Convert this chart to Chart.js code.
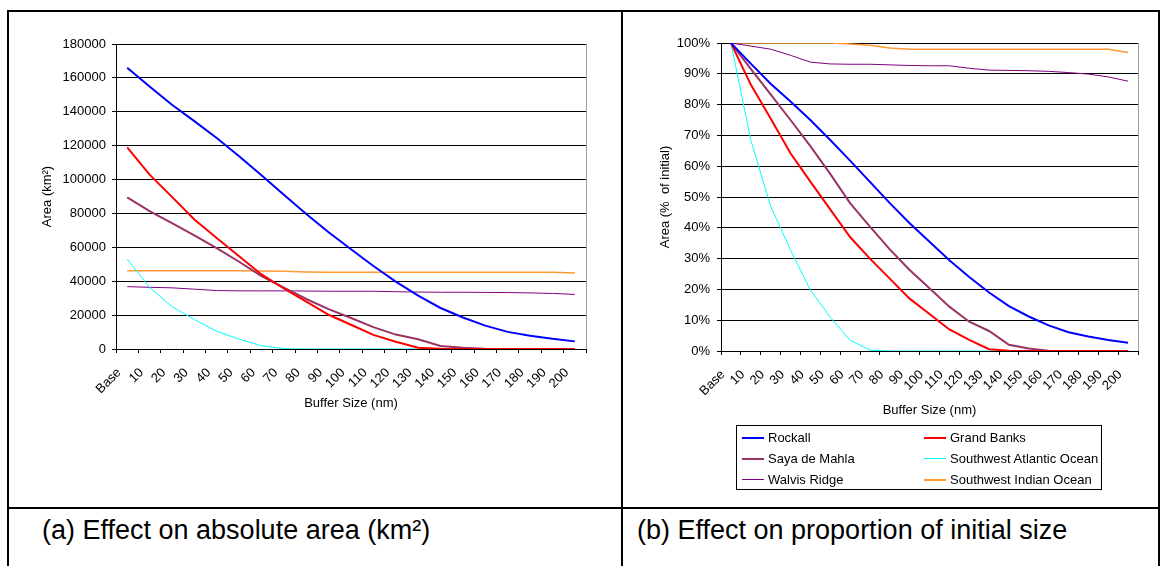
<!DOCTYPE html>
<html>
<head>
<meta charset="utf-8">
<title>Buffer size effect</title>
<script src="https://cdn.jsdelivr.net/npm/chart.js@4/dist/chart.umd.min.js"></script>
<style>
  html, body { margin: 0; padding: 0; background: #fff; overflow: hidden; }
  body { width: 1162px; height: 566px; position: relative; font-family: "Liberation Sans", Arial, sans-serif; }
  .rule { position: absolute; background: #000; }
  .frame { position: absolute; left: 7px; top: 10px; width: 1153px; height: 620px; box-sizing: border-box; border: 2px solid #000; }
  .cell { position: absolute; }
  .caption { position: absolute; font-size: 27px; line-height: 30px; color: #000; white-space: nowrap; }
  .legend { position: absolute; left: 736px; top: 425px; width: 366px; height: 65px; box-sizing: border-box; border: 1px solid #000;
            display: grid; grid-template-columns: 182px 182px; grid-auto-rows: 21px; padding-top: 1px; font-size: 13px; color: #000; }
  .legend .item { display: flex; align-items: center; white-space: nowrap; }
  .legend .swatch { display: inline-block; width: 22px; margin: 0 4px 0 5px; }
</style>
</head>
<body>
<div class="frame"></div>
<div class="rule" style="left:621px;top:10px;width:2px;height:620px"></div>
<div class="rule" style="left:7px;top:507px;width:1153px;height:2px"></div>

<div class="cell" style="left:10px;top:12px;width:610px;height:494px"><canvas id="chart-area"></canvas></div>
<div class="cell" style="left:624px;top:12px;width:534px;height:494px"><canvas id="chart-pct"></canvas></div>
<div class="legend" id="legend-pct"></div>

<div class="caption" style="left:42px;top:515px">(a) Effect on absolute area (km²)</div>
<div class="caption" style="left:637px;top:515px">(b) Effect on proportion of initial size</div>

<script>
(function () {
  'use strict';

  // ── Données ──
  var categories = ['Base', '10', '20', '30', '40', '50', '60', '70', '80', '90', '100',
                    '110', '120', '130', '140', '150', '160', '170', '180', '190', '200'];

  var seriesNames = ['Rockall', 'Grand Banks', 'Saya de Mahla', 'Southwest Atlantic Ocean', 'Walvis Ridge', 'Southwest Indian Ocean'];

  // (a) surface absolue, km²
  var areaRockall   = [166000, 154900, 144100, 134500, 124500, 113700, 102600, 91100, 79700, 68900, 58900, 49000, 39800, 31500, 24200, 18600, 13800, 10100, 7800, 6000, 4500];
  var areaGrandBks  = [119000, 102900, 89800, 76400, 65500, 54700, 44000, 35700, 28000, 20200, 14300, 8300, 4300, 700, 100, 0, 0, 0, 0, 0, 0];
  var areaSaya      = [89500, 81400, 74300, 67100, 59500, 51500, 43000, 36200, 29500, 23500, 18300, 12900, 8500, 5800, 1800, 700, 100, 0, 0, 0, 0];
  var areaSwAtl     = [53100, 36400, 25000, 17400, 10500, 5800, 1900, 200, 0, 0, 0, 0, 0, 0, 0, 0, 0, 0, 0, 0, 0];
  var areaWalvis    = [36800, 36400, 36100, 35300, 34500, 34300, 34300, 34300, 34200, 34100, 34100, 34100, 33800, 33600, 33500, 33500, 33400, 33300, 33100, 32800, 32200];
  var areaSwInd     = [46200, 46200, 46200, 46200, 46200, 46200, 46100, 45900, 45500, 45300, 45300, 45300, 45300, 45300, 45300, 45300, 45300, 45300, 45300, 45300, 44800];

  // (b) proportion de la surface initiale, %
  var pctRockall    = [100, 93.3, 86.8, 81, 75, 68.5, 61.8, 54.9, 48, 41.5, 35.5, 29.5, 24, 19, 14.6, 11.2, 8.3, 6.1, 4.7, 3.6, 2.7];
  var pctGrandBks   = [100, 86.5, 75.5, 64.2, 55, 46, 37, 30, 23.5, 17, 12, 7, 3.6, 0.6, 0.1, 0, 0, 0, 0, 0, 0];
  var pctSaya       = [100, 91.6, 83.3, 75, 66.5, 57.5, 48, 40.4, 33, 26.3, 20.4, 14.4, 9.5, 6.5, 2, 0.8, 0.1, 0, 0, 0, 0];
  var pctSwAtl      = [100, 68.5, 47, 32.8, 19.8, 11, 3.5, 0.3, 0, 0, 0, 0, 0, 0, 0, 0, 0, 0, 0, 0, 0];
  var pctWalvis     = [100, 99, 98, 96, 93.8, 93.2, 93.1, 93.1, 92.9, 92.7, 92.6, 92.6, 91.8, 91.2, 91.1, 91, 90.8, 90.4, 89.9, 89, 87.6];
  var pctSwInd      = [100, 100, 100, 100, 100, 100, 99.7, 99.3, 98.4, 98, 98, 98, 98, 98, 98, 98, 98, 98, 98, 98, 96.9];

  var colors = ['#0000ff', '#ff0000', '#993366', '#00ffff', '#800080', '#ff9933'];
  var widths = [2, 2, 2, 1, 1, 1.5];

  var FONT = '"Liberation Sans", Arial, sans-serif';
  function f(size) { return { family: FONT, size: size }; }

  function datasets(series) {
    return series.map(function (d, i) {
      return {
        label: seriesNames[i], data: d, borderColor: colors[i], backgroundColor: colors[i],
        borderWidth: widths[i], pointRadius: 0, pointHoverRadius: 0, tension: 0, fill: false
      };
    });
  }

  // bord droit gris de la zone de tracé (style Excel)
  var plotFrame = {
    id: 'plotFrame',
    beforeDatasetsDraw: function (chart) {
      var a = chart.chartArea, ctx = chart.ctx;
      ctx.save();
      ctx.strokeStyle = '#a0a0a0';
      ctx.lineWidth = 1;
      ctx.beginPath();
      ctx.moveTo(Math.round(a.right) + 0.5, a.top);
      ctx.lineTo(Math.round(a.right) + 0.5, a.bottom);
      ctx.stroke();
      ctx.restore();
    }
  };

  function xScale(height) {
    return {
      offset: true,
      grid: { display: true, drawOnChartArea: false, drawTicks: true, tickLength: 4, offset: true, color: '#000' },
      border: { color: '#000', width: 1 },
      ticks: { autoSkip: false, minRotation: 45, maxRotation: 45, padding: 12, labelOffset: -8, color: '#000', font: f(13) },
      title: { display: true, text: 'Buffer Size (nm)', color: '#000', font: f(13), padding: 0 },
      afterFit: function (s) { s.height = height; }
    };
  }

  function baseOptions(padding) {
    return {
      responsive: true,
      maintainAspectRatio: false,
      animation: false,
      events: [],
      layout: { padding: padding },
      plugins: { legend: { display: false }, tooltip: { enabled: false } }
    };
  }

  // ── (a) surface absolue ──
  var optA = baseOptions({ left: 0, right: 34, top: 32, bottom: 95 });
  optA.scales = {
    x: xScale(62),
    y: {
      min: 0, max: 180000,
      grid: { color: '#000', tickLength: 4 },
      border: { color: '#000', width: 1 },
      ticks: { stepSize: 20000, padding: 6, color: '#000', font: f(13), callback: function (v) { return String(v); } },
      title: { display: true, text: 'Area (km²)', color: '#000', font: f(13), padding: { top: 30, bottom: 0 } },
      afterFit: function (s) { s.width = 106; }
    }
  };
  new Chart(document.getElementById('chart-area'), {
    type: 'line',
    data: { labels: categories, datasets: datasets([areaRockall, areaGrandBks, areaSaya, areaSwAtl, areaWalvis, areaSwInd]) },
    options: optA,
    plugins: [plotFrame]
  });

  // ── (b) proportion de la taille initiale ──
  var optB = baseOptions({ left: 0, right: 20, top: 31, bottom: 88 });
  optB.scales = {
    x: xScale(67),
    y: {
      min: 0, max: 100,
      grid: { color: '#000', tickLength: 4 },
      border: { color: '#000', width: 1 },
      ticks: { stepSize: 10, padding: 7, color: '#000', font: f(13), callback: function (v) { return v + '%'; } },
      title: { display: true, text: 'Area (%  of initial)', color: '#000', font: f(13), padding: { top: 34, bottom: 0 } },
      afterFit: function (s) { s.width = 97; }
    }
  };
  var chartB = new Chart(document.getElementById('chart-pct'), {
    type: 'line',
    data: { labels: categories, datasets: datasets([pctRockall, pctGrandBks, pctSaya, pctSwAtl, pctWalvis, pctSwInd]) },
    options: optB,
    plugins: [plotFrame]
  });

  // ── Légende HTML encadrée, 2 colonnes ──
  var box = document.getElementById('legend-pct');
  chartB.data.datasets.forEach(function (ds) {
    var item = document.createElement('div');
    item.className = 'item';
    var sw = document.createElement('span');
    sw.className = 'swatch';
    sw.style.borderTop = Math.max(1, Math.round(ds.borderWidth)) + 'px solid ' + ds.borderColor;
    item.appendChild(sw);
    item.appendChild(document.createTextNode(ds.label));
    box.appendChild(item);
  });
})();
</script>
</body>
</html>
